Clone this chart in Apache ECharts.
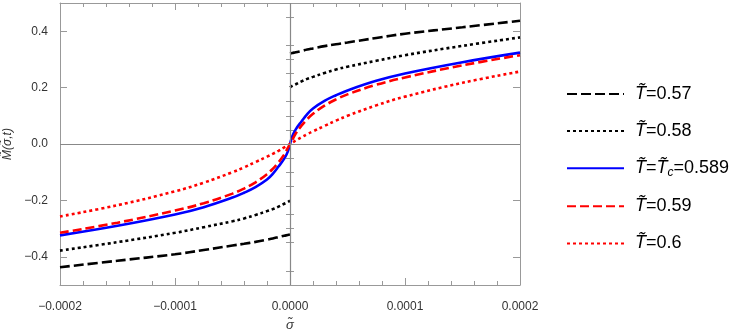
<!DOCTYPE html>
<html>
<head>
<meta charset="utf-8">
<script src="https://cdn.jsdelivr.net/npm/echarts@6/dist/echarts.min.js"></script>
<style>
  html, body { margin: 0; padding: 0; background: #fff; }
  #chart { width: 750px; height: 334px; }
</style>
</head>
<body>
<div id="chart"></div>
<script>
// sigma sample points, negative and positive halves
var sigmaNeg = [-0.0002, -0.00015, -0.0001, -0.000075, -0.00005, -0.00004, -0.00003, -0.00002, -0.000015, -0.00001, -0.000005, -0.000002, 0];
var sigmaPos = [0, 0.000002, 0.000005, 0.00001, 0.000015, 0.00002, 0.00003, 0.00004, 0.00005, 0.000075, 0.0001, 0.00015, 0.0002];

// T=0.57 (jump at sigma=0)
var m057Neg = [-0.437, -0.414, -0.391, -0.376, -0.360, -0.354, -0.347, -0.339, -0.335, -0.330, -0.325, -0.323, -0.321];
var m057Pos = [0.321, 0.323, 0.325, 0.330, 0.335, 0.339, 0.347, 0.354, 0.360, 0.376, 0.391, 0.414, 0.437];
// T=0.58 (jump at sigma=0)
var m058Neg = [-0.378, -0.348, -0.315, -0.295, -0.274, -0.264, -0.252, -0.238, -0.231, -0.222, -0.212, -0.206, -0.201];
var m058Pos = [0.201, 0.206, 0.212, 0.222, 0.231, 0.238, 0.252, 0.264, 0.274, 0.295, 0.315, 0.348, 0.378];
// T=Tc=0.589
var mTcNeg = [-0.324, -0.290, -0.250, -0.224, -0.190, -0.173, -0.153, -0.126, -0.106, -0.080, -0.052, -0.028, 0];
var mTcPos = [0, 0.028, 0.052, 0.080, 0.106, 0.126, 0.153, 0.173, 0.190, 0.224, 0.250, 0.290, 0.324];
// T=0.59
var m059Neg = [-0.315, -0.279, -0.236, -0.210, -0.176, -0.158, -0.136, -0.107, -0.088, -0.065, -0.037, -0.015, 0];
var m059Pos = [0, 0.015, 0.037, 0.065, 0.088, 0.107, 0.136, 0.158, 0.176, 0.210, 0.236, 0.279, 0.315];
// T=0.6
var m060Neg = [-0.257, -0.217, -0.168, -0.137, -0.100, -0.083, -0.064, -0.045, -0.035, -0.024, -0.012, -0.005, 0];
var m060Pos = [0, 0.005, 0.012, 0.024, 0.035, 0.045, 0.064, 0.083, 0.100, 0.137, 0.168, 0.217, 0.257];

var yMajorTicks = [-0.4, -0.2, 0, 0.2, 0.4];
var yMinorTicks = [-0.45, -0.35, -0.3, -0.25, -0.15, -0.1, -0.05, 0.05, 0.1, 0.15, 0.25, 0.3, 0.35, 0.45];

var legendNames = ['T057', 'T058', 'Tc', 'T059', 'T060'];
var legendLabels = {
    T057: '{i|T\u0303}=0.57',
    T058: '{i|T\u0303}=0.58',
    Tc: '{i|T\u0303}={i|T\u0303}{s|c}=0.589',
    T059: '{i|T\u0303}=0.59',
    T060: '{i|T\u0303}=0.6'
};

function pairs(xs, ys) {
    return xs.map(function (x, i) { return [x, ys[i]]; });
}
function joined(neg, pos) {
    return pairs(sigmaNeg, neg).concat(pairs(sigmaPos, pos).slice(1));
}
function minus(s) { return s.replace('-', '\u2212'); }

var frameColor = '#999';
var chart = echarts.init(document.getElementById('chart'));

function curve(name, data, color, type, width) {
    return {
        name: name,
        type: 'line',
        data: data,
        symbol: 'none',
        smooth: 0.4,
        lineStyle: { color: color, type: type, width: width, cap: 'butt' },
        itemStyle: { color: color },
        silent: true
    };
}

var option = {
    animation: false,
    textStyle: { fontFamily: 'Liberation Sans, Arial, sans-serif' },
    grid: { left: 60, right: 230, top: 3, bottom: 49, outerBoundsMode: 'none' },
    legend: {
        data: legendNames,
        orient: 'vertical',
        left: 561,
        top: 80,
        itemWidth: 57,
        itemHeight: 20,
        itemGap: 19.1,
        itemStyle: { opacity: 0, borderWidth: 0 },
        formatter: function (n) { return legendLabels[n]; },
        textStyle: {
            fontSize: 18,
            color: '#000',
            padding: [0, 0, 0, 6],
            rich: {
                i: { fontSize: 18, fontStyle: 'italic', color: '#000' },
                s: { fontSize: 12, fontStyle: 'italic', color: '#000', verticalAlign: 'bottom', padding: [8, 0, 0, 0] }
            }
        }
    },
    xAxis: [
        {
            type: 'value', min: -0.0002, max: 0.0002, interval: 0.0001,
            name: '\u03c3\u0303', nameLocation: 'middle', nameGap: 34,
            nameTextStyle: { fontSize: 13, fontStyle: 'italic', color: '#333' },
            axisLine: { onZero: false, lineStyle: { color: frameColor } },
            axisTick: { inside: true, length: 7, lineStyle: { color: frameColor } },
            minorTick: { show: true, splitNumber: 5, length: 4, lineStyle: { color: frameColor } },
            axisLabel: { color: '#333', fontSize: 12, margin: 16, formatter: function (v) { return minus(v.toFixed(4)); } },
            splitLine: { show: false }
        },
        {
            type: 'value', min: -0.0002, max: 0.0002, interval: 0.0001, position: 'top',
            axisLine: { onZero: false, lineStyle: { color: frameColor } },
            axisTick: { inside: true, length: 7, lineStyle: { color: frameColor } },
            minorTick: { show: true, splitNumber: 5, length: 4, lineStyle: { color: frameColor } },
            axisLabel: { show: false },
            splitLine: { show: false }
        }
    ],
    yAxis: [
        {
            type: 'value', min: -0.5, max: 0.5, position: 'left',
            name: 'M\u0303(\u03c3\u0303,t)', nameLocation: 'middle', nameRotate: 90, nameGap: 42,
            nameTextStyle: { fontSize: 12, fontStyle: 'italic', color: '#333' },
            axisLine: { onZero: false, lineStyle: { color: frameColor } },
            axisTick: { inside: true, length: 7, customValues: yMajorTicks, lineStyle: { color: frameColor } },
            axisLabel: { color: '#333', fontSize: 12, margin: 12, customValues: yMajorTicks, formatter: function (v) { return minus(v.toFixed(1)); } },
            splitLine: { show: false }
        },
        {
            type: 'value', min: -0.5, max: 0.5, position: 'left',
            axisLine: { show: false },
            axisTick: { inside: true, length: 4, customValues: yMinorTicks, lineStyle: { color: frameColor } },
            axisLabel: { show: false },
            splitLine: { show: false }
        },
        {
            type: 'value', min: -0.5, max: 0.5, position: 'right',
            axisLine: { show: true, onZero: false, lineStyle: { color: frameColor } },
            axisTick: { inside: true, length: 7, customValues: yMajorTicks, lineStyle: { color: frameColor } },
            axisLabel: { show: false },
            splitLine: { show: false }
        },
        {
            type: 'value', min: -0.5, max: 0.5, position: 'right',
            axisLine: { show: false },
            axisTick: { inside: true, length: 4, customValues: yMinorTicks, lineStyle: { color: frameColor } },
            axisLabel: { show: false },
            splitLine: { show: false }
        }
    ],
    series: [
        {
            name: 'zero', type: 'line', data: [], silent: true, z: 1,
            markLine: {
                silent: true, symbol: 'none', label: { show: false },
                lineStyle: { color: '#888', type: 'solid', width: 1.2 },
                data: [{ xAxis: 0 }, { yAxis: 0 }]
            }
        },
        curve('T057', pairs(sigmaNeg, m057Neg), '#000', [10, 4], 2.6),
        curve('T057', pairs(sigmaPos, m057Pos), '#000', [10, 4], 2.6),
        curve('T058', pairs(sigmaNeg, m058Neg), '#000', [3, 3], 2.6),
        curve('T058', pairs(sigmaPos, m058Pos), '#000', [3, 3], 2.6),
        curve('Tc', joined(mTcNeg, mTcPos), '#0000ff', 'solid', 2.6),
        curve('T059', joined(m059Neg, m059Pos), '#ff0000', [9, 4], 2.6),
        curve('T060', joined(m060Neg, m060Pos), '#ff0000', [3, 3], 2.6)
    ]
};

chart.setOption(option);
</script>
</body>
</html>
